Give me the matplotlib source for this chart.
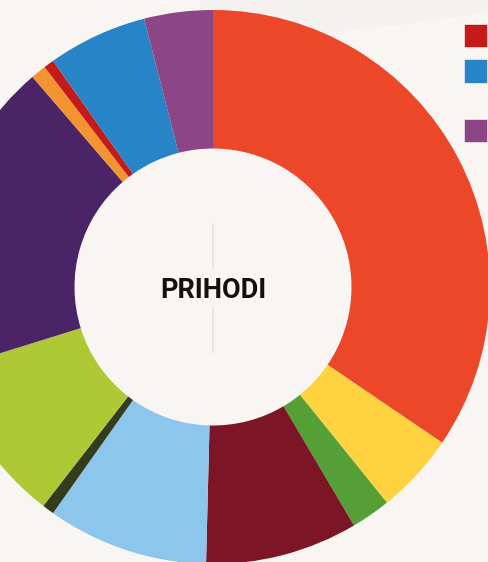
import matplotlib.pyplot as plt
from matplotlib.patches import Rectangle, Polygon

# udjeli prihoda (%) - procijenjeno sa slike, redom u smjeru kazaljke
kategorije = ["Kategorija 1", "Kategorija 2", "Kategorija 3", "Kategorija 4",
              "Kategorija 5", "Kategorija 6", "Kategorija 7", "Kategorija 8",
              "Kategorija 9", "Kategorija 10", "Kategorija 11", "Kategorija 12"]
udjeli = [34.5, 4.7, 2.3, 8.9, 9.4, 0.7, 9.7, 18.5, 0.9, 0.6, 5.8, 4.0]
boje = ["#eb4728", "#ffd23f", "#55a036", "#7c1626", "#8dc6ed", "#333d1e",
        "#afc936", "#4b2467", "#f39431", "#c51a1a", "#2785c7", "#8c4585"]
legenda_vidljiva = [9, 10, 11]  # samo dio legende stane u sliku

W, H = 489, 562
bg = "#f8f5f2"

fig = plt.figure(figsize=(W / 100, H / 100), dpi=100, facecolor=bg)
ax = fig.add_axes([0, 0, 1, 1])
ax.set_facecolor(bg)

# blaga tamnija traka u pozadini gore
ax.add_patch(Polygon([(200, H), (W, H), (W, H - 12), (400, H - 25), (300, H - 36), (200, H - 40)],
                     closed=True, facecolor="#f5f1ee", edgecolor="none", zorder=0))

cx, cy, R = 213, H - 287, 277
ax.pie(udjeli, colors=boje, startangle=90, counterclock=False,
       radius=R, center=(cx, cy),
       wedgeprops=dict(width=R * 0.5, linewidth=0, antialiased=True))

ax.text(cx, cy - 3, "PRIHODI", ha="center", va="center",
        fontsize=19.5, fontweight="bold", family="Roboto", color="#111111")
ax.plot([cx, cx], [H - 225, H - 268], color="#ece4df", lw=1.5)
ax.plot([cx, cx], [H - 308, H - 352], color="#ece4df", lw=1.5)

ax.set_xlim(0, W)
ax.set_ylim(0, H)
ax.set_aspect("equal")
ax.axis("off")

# komad legende u desnom kutu
for y_top, i in zip([24, 59.5, 119], legenda_vidljiva):
    fig.add_artist(Rectangle((464 / W, 1 - (y_top + 23.3) / H), 23.3 / W, 23.3 / H,
                             transform=fig.transFigure, facecolor=boje[i],
                             edgecolor="white", linewidth=0.4, alpha=1))

fig.savefig("out.png", dpi=100, facecolor=bg)
